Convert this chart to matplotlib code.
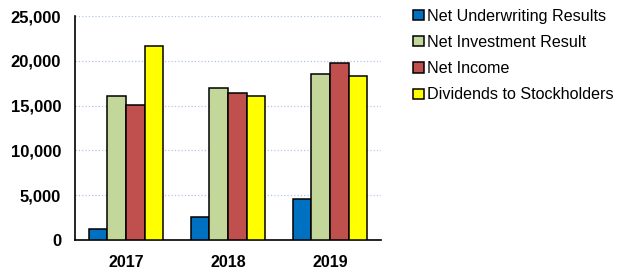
import numpy as np
import matplotlib
matplotlib.use("Agg")
import matplotlib.pyplot as plt

years = ["2017", "2018", "2019"]
series = ["Net Underwriting Results", "Net Investment Result", "Net Income",
          "Dividends to Stockholders"]
underwriting = [1200, 2550, 4600]
investment = [16100, 17000, 18500]
net_income = [15050, 16450, 19800]
dividends = [21700, 16050, 18350]
colors = ["#0070C0", "#C4D79B", "#C0504D", "#FFFF00"]

plt.rcParams['font.family'] = ['Liberation Sans', 'DejaVu Sans']

fig = plt.figure(figsize=(6.18, 2.69), dpi=100)
ax = fig.add_axes([0.1214, 0.1078, 0.495, 0.8327])

x = np.arange(len(years))
w = 0.183
values = [underwriting, investment, net_income, dividends]
for i, (name, vals) in enumerate(zip(series, values)):
    ax.bar(x + (i - 1.5) * w, vals, w, color=colors[i], edgecolor="black",
           linewidth=1.1, label=name, zorder=3)

ax.set_xlim(-0.5, 2.5)
ax.set_ylim(0, 25000)
ax.set_yticks(range(0, 25001, 5000))
ax.set_yticklabels([f"{v:,}" for v in range(0, 25001, 5000)],
                   fontsize=12, fontweight="bold")
ax.set_xticks(x)
ax.set_xticklabels(years, fontsize=11.5, fontweight="bold")
ax.tick_params(axis="y", length=0, pad=10)
ax.tick_params(axis="x", length=0, pad=10.5)
ax.yaxis.grid(True, color="#B4C6E7", linestyle=":", linewidth=0.9, zorder=0)
for s in ["top", "right"]:
    ax.spines[s].set_visible(False)
ax.spines["left"].set_linewidth(1.2)
ax.spines["bottom"].set_linewidth(1.2)

fig.legend(loc="upper left", bbox_to_anchor=(0.668, 0.968), frameon=False,
           fontsize=11.6, handlelength=0.68, handleheight=0.62, handletextpad=0.2,
           labelspacing=0.7, borderaxespad=0, borderpad=0)

fig.savefig("out.png", dpi=100)
